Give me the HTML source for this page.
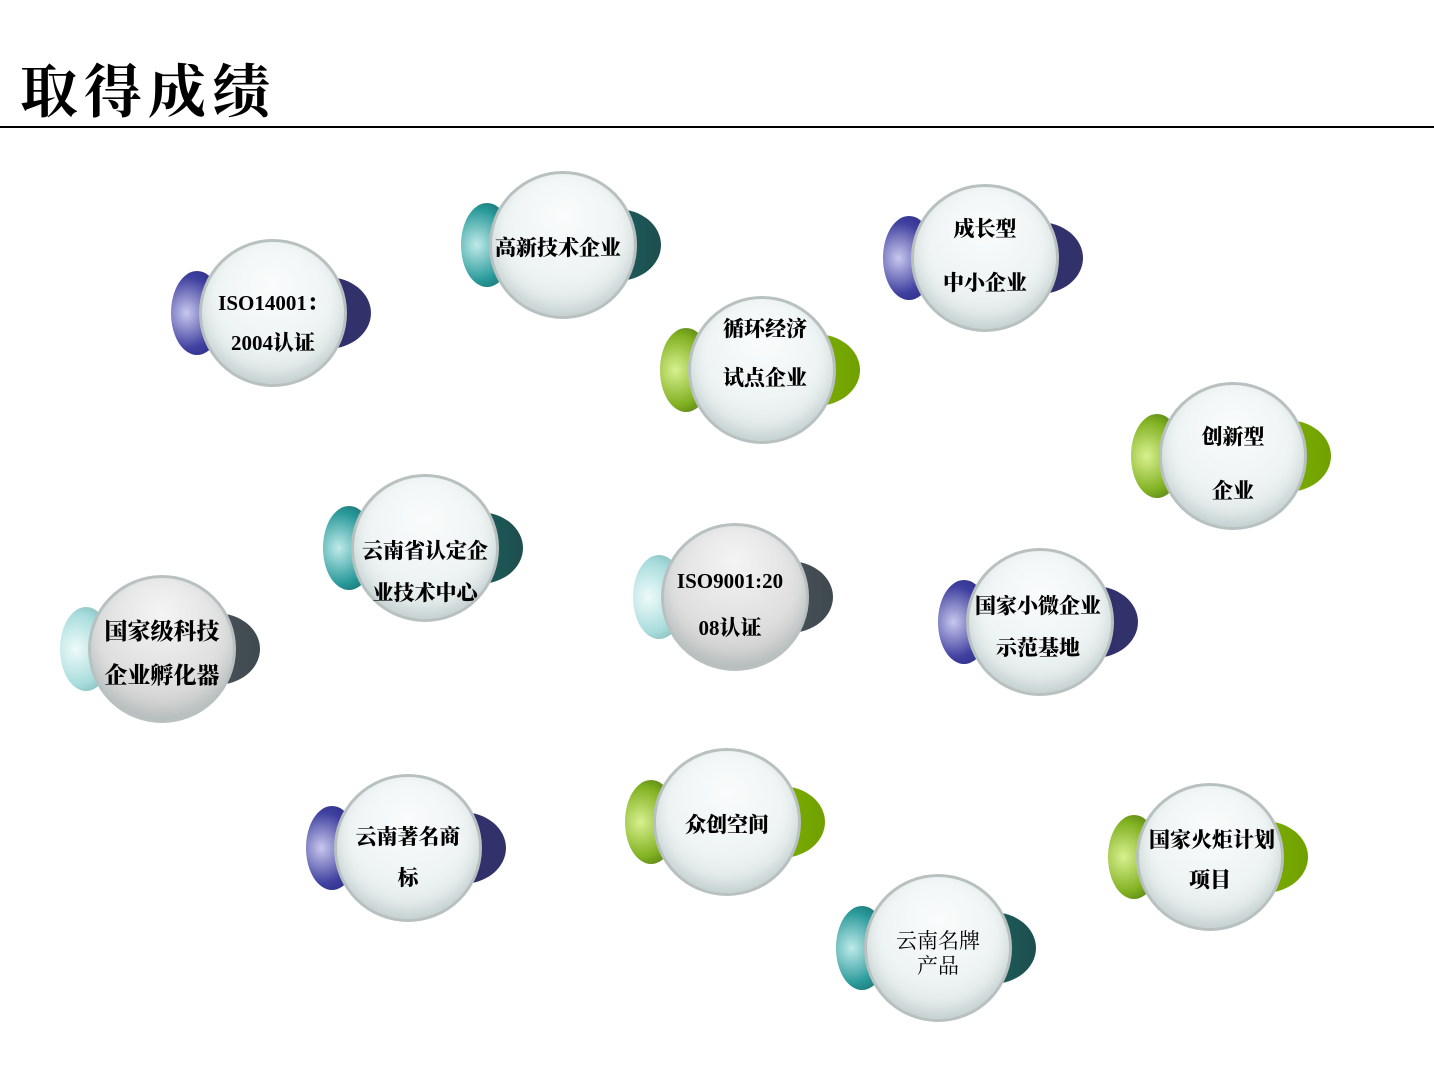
<!DOCTYPE html>
<html><head><meta charset="utf-8"><style>
body{margin:0;width:1434px;height:1079px;background:#fff;position:relative;overflow:hidden;font-family:"Liberation Serif","Noto Serif CJK SC",serif}
.t{position:absolute;left:20px;top:52px;font-size:58px;font-family:"Noto Serif CJK SC",serif;font-weight:bold;letter-spacing:6px;color:#000;line-height:70px}
.hr{position:absolute;left:0;top:126px;width:1434px;height:2px;background:#000}
.n{position:absolute;width:0;height:0}
.l,.r,.c{position:absolute;border-radius:50%}
.l{left:-102px;top:-42px;width:52px;height:84px}
.r{left:10px;top:-36px;width:88px;height:72px}
.c{left:-74px;top:-74px;width:148px;height:148px;box-sizing:border-box;border:3px solid #b8c0c0;
background:radial-gradient(circle at 50% 30%,#fafcfc 0%,#eef3f3 50%,#d9e2e2 90%);box-shadow:inset 0 -8px 14px rgba(150,170,170,.35)}
.g .c{background:radial-gradient(circle at 50% 25%,#f4f4f4 0%,#dedede 55%,#bdbdbd 95%)}
.tx{position:absolute;left:-80px;width:160px;text-align:center;font-weight:900;font-size:21px;color:#000;white-space:nowrap}
.blue .l{background:radial-gradient(ellipse at 30% 50%,#c8c8ee,#4040a0 60%,#22227a)}
.blue .r{background:linear-gradient(90deg,#2a2a70,#33336a)}
.teal .l{background:radial-gradient(ellipse at 30% 50%,#c0eaea,#2a9a9a 60%,#105858)}
.teal .r{background:linear-gradient(90deg,#1a6a6a,#1e4e4e)}
.green .l{background:radial-gradient(ellipse at 30% 50%,#d8f090,#80b020 60%,#3a6010)}
.green .r{background:linear-gradient(90deg,#88bb00,#70a000)}
.g .l{background:radial-gradient(ellipse at 30% 50%,#eefafa,#a8dcdc 60%,#70a8a8)}
.g .r{background:linear-gradient(90deg,#556,#3e4a4e)}
</style></head><body>
<div class="t">取得成绩</div><div class="hr"></div>

<div class="n blue" style="left:273px;top:313px"><div class="l"></div><div class="r"></div><div class="c"></div><div class="tx" style="top:-26px">ISO14001：</div><div class="tx" style="top:14px">2004认证</div></div>
<div class="n teal" style="left:563px;top:245px"><div class="l"></div><div class="r"></div><div class="c"></div><div class="tx" style="top:-13px;left:-85px;width:160px">高新技术企业</div></div>
<div class="n blue" style="left:985px;top:258px"><div class="l"></div><div class="r"></div><div class="c"></div><div class="tx" style="top:-45px">成长型</div><div class="tx" style="top:9px">中小企业</div></div>
<div class="n green" style="left:762px;top:370px"><div class="l"></div><div class="r"></div><div class="c"></div><div class="tx" style="top:-57px;left:-77px">循环经济</div><div class="tx" style="top:-8px;left:-77px">试点企业</div></div>
<div class="n green" style="left:1233px;top:456px"><div class="l"></div><div class="r"></div><div class="c"></div><div class="tx" style="top:-35px">创新型</div><div class="tx" style="top:19px">企业</div></div>
<div class="n teal" style="left:425px;top:548px"><div class="l"></div><div class="r"></div><div class="c"></div><div class="tx" style="top:-13px">云南省认定企</div><div class="tx" style="top:29px">业技术中心</div></div>
<div class="n g" style="left:735px;top:597px"><div class="l"></div><div class="r"></div><div class="c"></div><div class="tx" style="top:-28px;left:-85px">ISO9001:20</div><div class="tx" style="top:15px;left:-85px">08认证</div></div>
<div class="n blue" style="left:1040px;top:622px"><div class="l"></div><div class="r"></div><div class="c"></div><div class="tx" style="top:-32px;left:-82px">国家小微企业</div><div class="tx" style="top:10px;left:-82px">示范基地</div></div>
<div class="n g" style="left:162px;top:649px"><div class="l"></div><div class="r"></div><div class="c"></div><div class="tx" style="top:-36px;font-size:23px">国家级科技</div><div class="tx" style="top:8px;font-size:23px">企业孵化器</div></div>
<div class="n blue" style="left:408px;top:848px"><div class="l"></div><div class="r"></div><div class="c"></div><div class="tx" style="top:-27px">云南著名商</div><div class="tx" style="top:14px">标</div></div>
<div class="n green" style="left:727px;top:822px"><div class="l"></div><div class="r"></div><div class="c"></div><div class="tx" style="top:-13px">众创空间</div></div>
<div class="n green" style="left:1210px;top:857px"><div class="l"></div><div class="r"></div><div class="c"></div><div class="tx" style="top:-33px;left:-78px">国家火炬计划</div><div class="tx" style="top:7px">项目</div></div>
<div class="n teal" style="left:938px;top:948px"><div class="l"></div><div class="r"></div><div class="c"></div><div class="tx" style="top:-23px;font-weight:normal">云南名牌</div><div class="tx" style="top:2px;font-weight:normal">产品</div></div>
</body></html>
